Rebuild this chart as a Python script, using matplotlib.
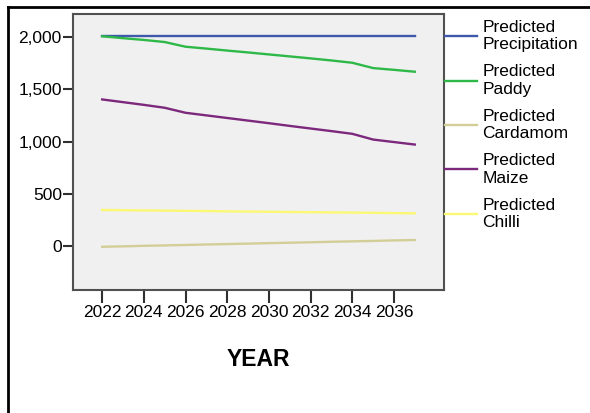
import matplotlib
matplotlib.use('Agg')
import matplotlib.pyplot as plt
from matplotlib.lines import Line2D
from matplotlib.ticker import FuncFormatter

plt.rcParams['font.family'] = ['Liberation Sans', 'DejaVu Sans']

# data
years = list(range(2022, 2038))
precipitation = [2012] * 16
paddy = [2010, 1992, 1975, 1955, 1910, 1892, 1873, 1855, 1836, 1817, 1798, 1778, 1756, 1705, 1688, 1670]
cardamom = [-10, -6, -1, 3, 7, 12, 16, 20, 25, 29, 33, 38, 42, 46, 51, 55]
maize = [1404, 1378, 1352, 1324, 1276, 1251, 1226, 1201, 1176, 1150, 1125, 1100, 1074, 1019, 995, 971]
chilli = [343, 341, 339, 337, 335, 333, 330, 328, 326, 324, 322, 320, 318, 316, 313, 311]

series = [
    ("Predicted\nPrecipitation", precipitation, "#3E58AC"),
    ("Predicted\nPaddy", paddy, "#2EB848"),
    ("Predicted\nCardamom", cardamom, "#D3CE97"),
    ("Predicted\nMaize", maize, "#7C287D"),
    ("Predicted\nChilli", chilli, "#FBF873"),
]
xticks = list(range(2022, 2037, 2))
yticks = [0, 500, 1000, 1500, 2000]

fig = plt.figure(figsize=(5.9, 4.13), dpi=100)
ax = fig.add_axes([0.1237, 0.2978, 0.6288, 0.6683])
ax.set_facecolor("#F0F0F0")

for label, vals, col in series:
    ax.plot(years, vals, color=col, lw=1.7, label=label)

ax.set_xlim(2020.6, 2038.4)
ax.set_ylim(-425, 2224)
ax.set_xticks(xticks)
ax.set_yticks(yticks)
ax.yaxis.set_major_formatter(FuncFormatter(lambda v, p: f"{int(v):,}"))
ax.tick_params(axis='both', labelsize=12.5, width=1.5, color="#303030")
ax.tick_params(axis='y', length=7.5, pad=0.5)
ax.tick_params(axis='x', length=9, pad=2)
for s in ax.spines.values():
    s.set_color("#505050")
    s.set_linewidth(1.5)

ax.set_xlabel("YEAR", fontsize=16.5, fontweight='bold', labelpad=20)

leg = ax.legend(loc='upper left', bbox_to_anchor=(1.0, 0.982), frameon=False,
                fontsize=12.5, handlelength=1.85, handletextpad=0.3,
                labelspacing=0.68, borderaxespad=0.0, borderpad=0.05)
for t in leg.get_texts():
    t.set_linespacing(1.22)

# outer frame of the exported chart (top and left edges only)
fig.add_artist(Line2D([8 / 590, 1.0], [1 - 7 / 413, 1 - 7 / 413], color='black', lw=2, transform=fig.transFigure))
fig.add_artist(Line2D([8 / 590, 8 / 590], [0.0, 1 - 7 / 413], color='black', lw=2, transform=fig.transFigure))

fig.savefig("out.png", dpi=100)
